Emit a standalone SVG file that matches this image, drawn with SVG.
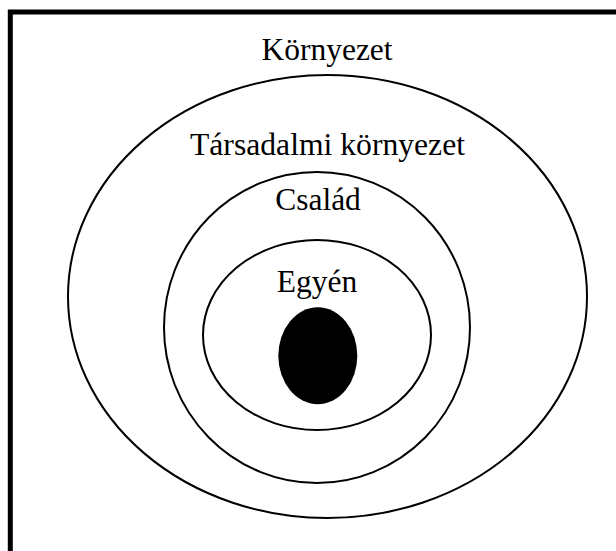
<svg xmlns="http://www.w3.org/2000/svg" width="616" height="551" viewBox="0 0 616 551">
<style>
.ring{fill:none;stroke:#000;stroke-width:2}
.lbl{font-family:"Liberation Serif","Times New Roman",serif;font-size:31.5px;fill:#000;text-anchor:middle}
</style>
<rect width="616" height="551" fill="#fff"/>
<g id="frame"><path d="M10.3,551 V12 H616" fill="none" stroke="#000" stroke-width="5"/></g>
<g id="kornyezet">
<ellipse class="ring" cx="327.5" cy="296.5" rx="259.5" ry="221.5"/>
<text class="lbl" x="327" y="60">Környezet</text>
</g>
<g id="tarsadalmi">
<ellipse class="ring" cx="317" cy="327.5" rx="153" ry="155.5"/>
<text class="lbl" x="327.5" y="155" textLength="275" lengthAdjust="spacingAndGlyphs">Társadalmi környezet</text>
</g>
<g id="csalad">
<ellipse class="ring" cx="317" cy="335" rx="114" ry="95"/>
<text class="lbl" x="318" y="210">Család</text>
</g>
<g id="egyen">
<ellipse cx="317.8" cy="355.8" rx="39.5" ry="48.5" fill="#000"/>
<text class="lbl" x="317" y="292">Egyén</text>
</g>
<g id="connectors"/>
</svg>
